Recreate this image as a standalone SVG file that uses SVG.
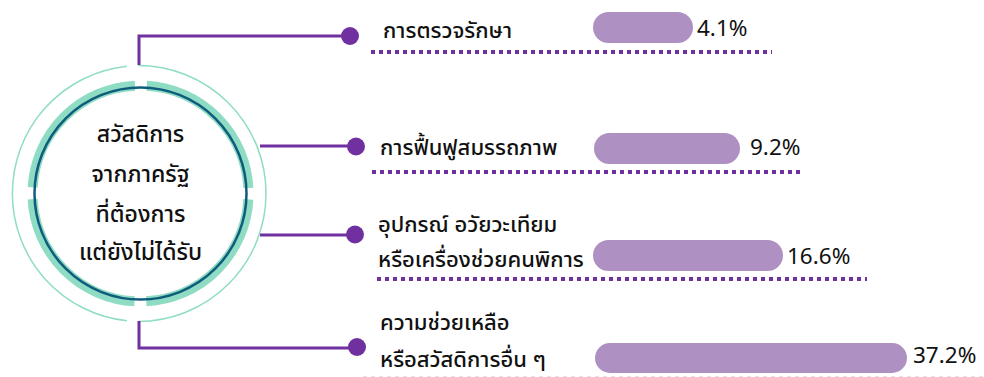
<svg xmlns="http://www.w3.org/2000/svg" width="984" height="377" viewBox="0 0 984 377">
<defs>
<style>
.conn{fill:none;stroke:#7030A0;stroke-width:3}
.dot{fill:#7030A0}
.dotted{fill:none;stroke:#7030A0;stroke-width:4;stroke-dasharray:4 4}
.bar{fill:#AE90C3}
.lbl{font-family:"Noto Sans Thai","Noto Sans","DejaVu Sans",sans-serif;font-size:22px;font-weight:500;fill:#111}
.pct{font-family:"Noto Sans","Open Sans",sans-serif;font-size:22.5px;fill:#111}
.ctr{font-family:"Noto Sans Thai","Noto Sans","DejaVu Sans",sans-serif;font-size:23px;font-weight:500;fill:#111;text-anchor:middle}
</style>
</defs>
<rect width="984" height="377" fill="#fff"/>
<g id="hub">
<path d="M138,65.5 A128,128 0 1 1 138,321.5" fill="none" stroke="#8FDDC4" stroke-width="1.5"/>
<path d="M127,320.8 A128,128 0 0 1 127,66.2" fill="none" stroke="#8FDDC4" stroke-width="1.5"/>
<circle cx="140.5" cy="193.5" r="108" fill="none" stroke="#8EDCC3" stroke-width="10" stroke-dasharray="157.6 12" stroke-dashoffset="-6"/>
<circle cx="140.5" cy="193.5" r="106" fill="none" stroke="#0F5C7C" stroke-width="2.5"/>
<text class="ctr" x="140.5" y="142">สวัสดิการ</text>
<text class="ctr" x="140.5" y="182">จากภาครัฐ</text>
<text class="ctr" x="140.5" y="222">ที่ต้องการ</text>
<text class="ctr" x="140.5" y="260">แต่ยังไม่ได้รับ</text>
</g>
<g id="connectors">
<path class="conn" d="M139,65 V36 H350"/>
<path class="conn" d="M260,146 H356"/>
<path class="conn" d="M260,235 H355"/>
<path class="conn" d="M139,321 V348 H357"/>
<circle class="dot" cx="350" cy="36" r="9"/>
<circle class="dot" cx="356" cy="146.5" r="9"/>
<circle class="dot" cx="355" cy="234.5" r="9"/>
<circle class="dot" cx="357" cy="347" r="9"/>
</g>
<g id="item1">
<text class="lbl" x="383" y="38">การตรวจรักษา</text>
<rect class="bar" x="593" y="12" width="100" height="31" rx="15.5"/>
<text class="pct" x="697" y="36">4.1%</text>
<line class="dotted" x1="371" y1="52" x2="772" y2="52"/>
</g>
<g id="item2">
<text class="lbl" x="380" y="155">การฟื้นฟูสมรรถภาพ</text>
<rect class="bar" x="594" y="133" width="146" height="31" rx="15.5"/>
<text class="pct" x="750" y="155">9.2%</text>
<line class="dotted" x1="372" y1="172" x2="800" y2="172"/>
</g>
<g id="item3">
<text class="lbl" x="378" y="232">อุปกรณ์ อวัยวะเทียม</text>
<text class="lbl" x="378" y="267">หรือเครื่องช่วยคนพิการ</text>
<rect class="bar" x="593" y="240" width="190" height="31" rx="15.5"/>
<text class="pct" x="787" y="264">16.6%</text>
<line class="dotted" x1="377" y1="279" x2="867" y2="279"/>
</g>
<g id="item4">
<text class="lbl" x="380" y="330">ความช่วยเหลือ</text>
<text class="lbl" x="380" y="367">หรือสวัสดิการอื่น ๆ</text>
<rect class="bar" x="595" y="343" width="312" height="30" rx="15"/>
<text class="pct" x="913" y="363">37.2%</text>
<line x1="363" y1="376.5" x2="984" y2="376.5" stroke="#E6E0EC" stroke-width="1" stroke-dasharray="4 4"/>
</g>
</svg>
